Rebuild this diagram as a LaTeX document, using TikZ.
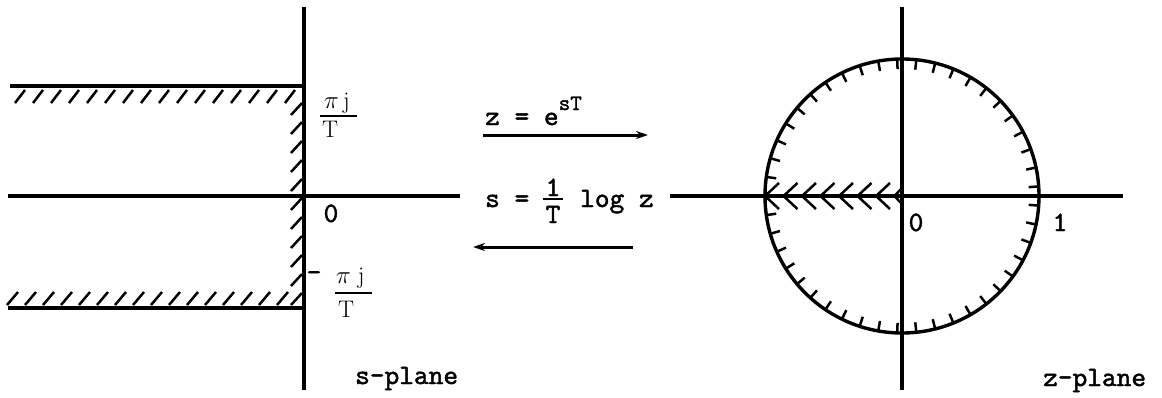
\documentclass[tikz,border=0pt]{standalone}
\usepackage{fontspec}
\newfontfamily\tw{lmmono10-regular.otf}[FakeBold=1.6]
\usetikzlibrary{arrows.meta}
\begin{document}
\begin{tikzpicture}[x=1pt,y=-1pt,
  axisline/.style={line width=3.1pt},
  hatch/.style={line width=2.5pt},
  circ/.style={line width=3.4pt},
  fracbar/.style={line width=2pt},
  lbl/.style={font=\tw\fontsize{28}{32}\selectfont, inner sep=0pt},
  mlbl/.style={font=\fontsize{24}{28}\selectfont, inner sep=0pt},
  maparrow/.style={line width=3pt, -{Stealth[length=12pt,width=8pt]}}]
\useasboundingbox (0,0) rectangle (1162,397);
% s-plane
\coordinate (sv1) at (304,7);
\coordinate (sv2) at (304,390);
\coordinate (sa1) at (8,196);
\coordinate (sa2) at (460,196);
\coordinate (st1) at (10,86);
\coordinate (st2) at (304,86);
\coordinate (sb1) at (8,308);
\coordinate (sb2) at (304,308);
\draw[axisline] (sv1) -- (sv2);
\draw[axisline] (sa1) -- (sa2);
\draw[axisline] (st1) -- (st2);
\draw[axisline] (sb1) -- (sb2);
\foreach \x in {25,43,...,297} \draw[hatch] (\x,90) -- ({\x-10},103);
\foreach \x in {7,25,...,290} \draw[hatch] (\x,305) -- ({\x+11},292);
\foreach \y in {103,122,...,294} \draw[hatch] (302,\y) -- (291,{\y+12});
% +pi j / T
\node[mlbl, anchor=base west] (pjn) at (324,108) {$\pi\,\mathrm{j}$};
\coordinate (pb1) at (320,116);
\coordinate (pb2) at (357,116);
\draw[fracbar] (pb1) -- (pb2);
\node[mlbl, anchor=base west] (pjd) at (322,137) {$\mathrm{T}$};
% -pi j / T
\node[lbl, anchor=center] (minus) at (314,276) {-};
\node[mlbl, anchor=base west] (mpjn) at (336,283) {$\pi\;\mathrm{j}$};
\coordinate (mb1) at (335,293);
\coordinate (mb2) at (372,293);
\draw[fracbar] (mb1) -- (mb2);
\node[mlbl, anchor=base west] (mpjd) at (338,317) {$\mathrm{T}$};
\node[lbl, anchor=base] (szero) at (331,222) {0};
\node[lbl, anchor=base west] (splane) at (355,384) {s-plane};
% mapping
\node[lbl, anchor=base west] (zeq) at (485,125) {z = e\raisebox{15pt}{\fontsize{22}{24}\selectfont sT}};
\node[lbl, anchor=base west] (seq1) at (485,207) {s =};
\node[lbl, anchor=base] (seqn) at (553,196) {1};
\coordinate (qb1) at (543,199);
\coordinate (qb2) at (563,199);
\draw[fracbar] (qb1) -- (qb2);
\node[lbl, anchor=base] (seqd) at (553,223) {T};
\node[lbl, anchor=base west] (seq2) at (580,207) {log z};
\coordinate (fa1) at (483,135);
\coordinate (fa2) at (648,135);
\coordinate (ba1) at (633,247);
\coordinate (ba2) at (473,247);
\draw[maparrow] (fa1) -- (fa2);
\draw[maparrow] (ba1) -- (ba2);
% z-plane
\coordinate (c) at (902,196);
\coordinate (zv1) at (902,7);
\coordinate (zv2) at (902,390);
\coordinate (za1) at (670,196);
\coordinate (za2) at (1123,196);
\draw[axisline] (zv1) -- (zv2);
\draw[axisline] (za1) -- (za2);
\draw[circ] (c) circle[radius=137pt];
\foreach \a in {4,12,...,356} \draw[hatch] (c) ++(\a:137pt) -- ++(\a+180:10pt);
\foreach \i in {0,...,6} \draw[hatch] ({765+18.5*\i+14},183) -- ({765+18.5*\i},196) -- ({765+18.5*\i+14},209);
\draw[hatch] (901,189) -- (894.5,196) -- (901,203);
\node[lbl, anchor=base] (zzero) at (916,231) {0};
\node[lbl, anchor=base] (zone) at (1060,231) {1};
\node[lbl, anchor=base west] (zplane) at (1043,386) {z-plane};
\end{tikzpicture}
\end{document}
